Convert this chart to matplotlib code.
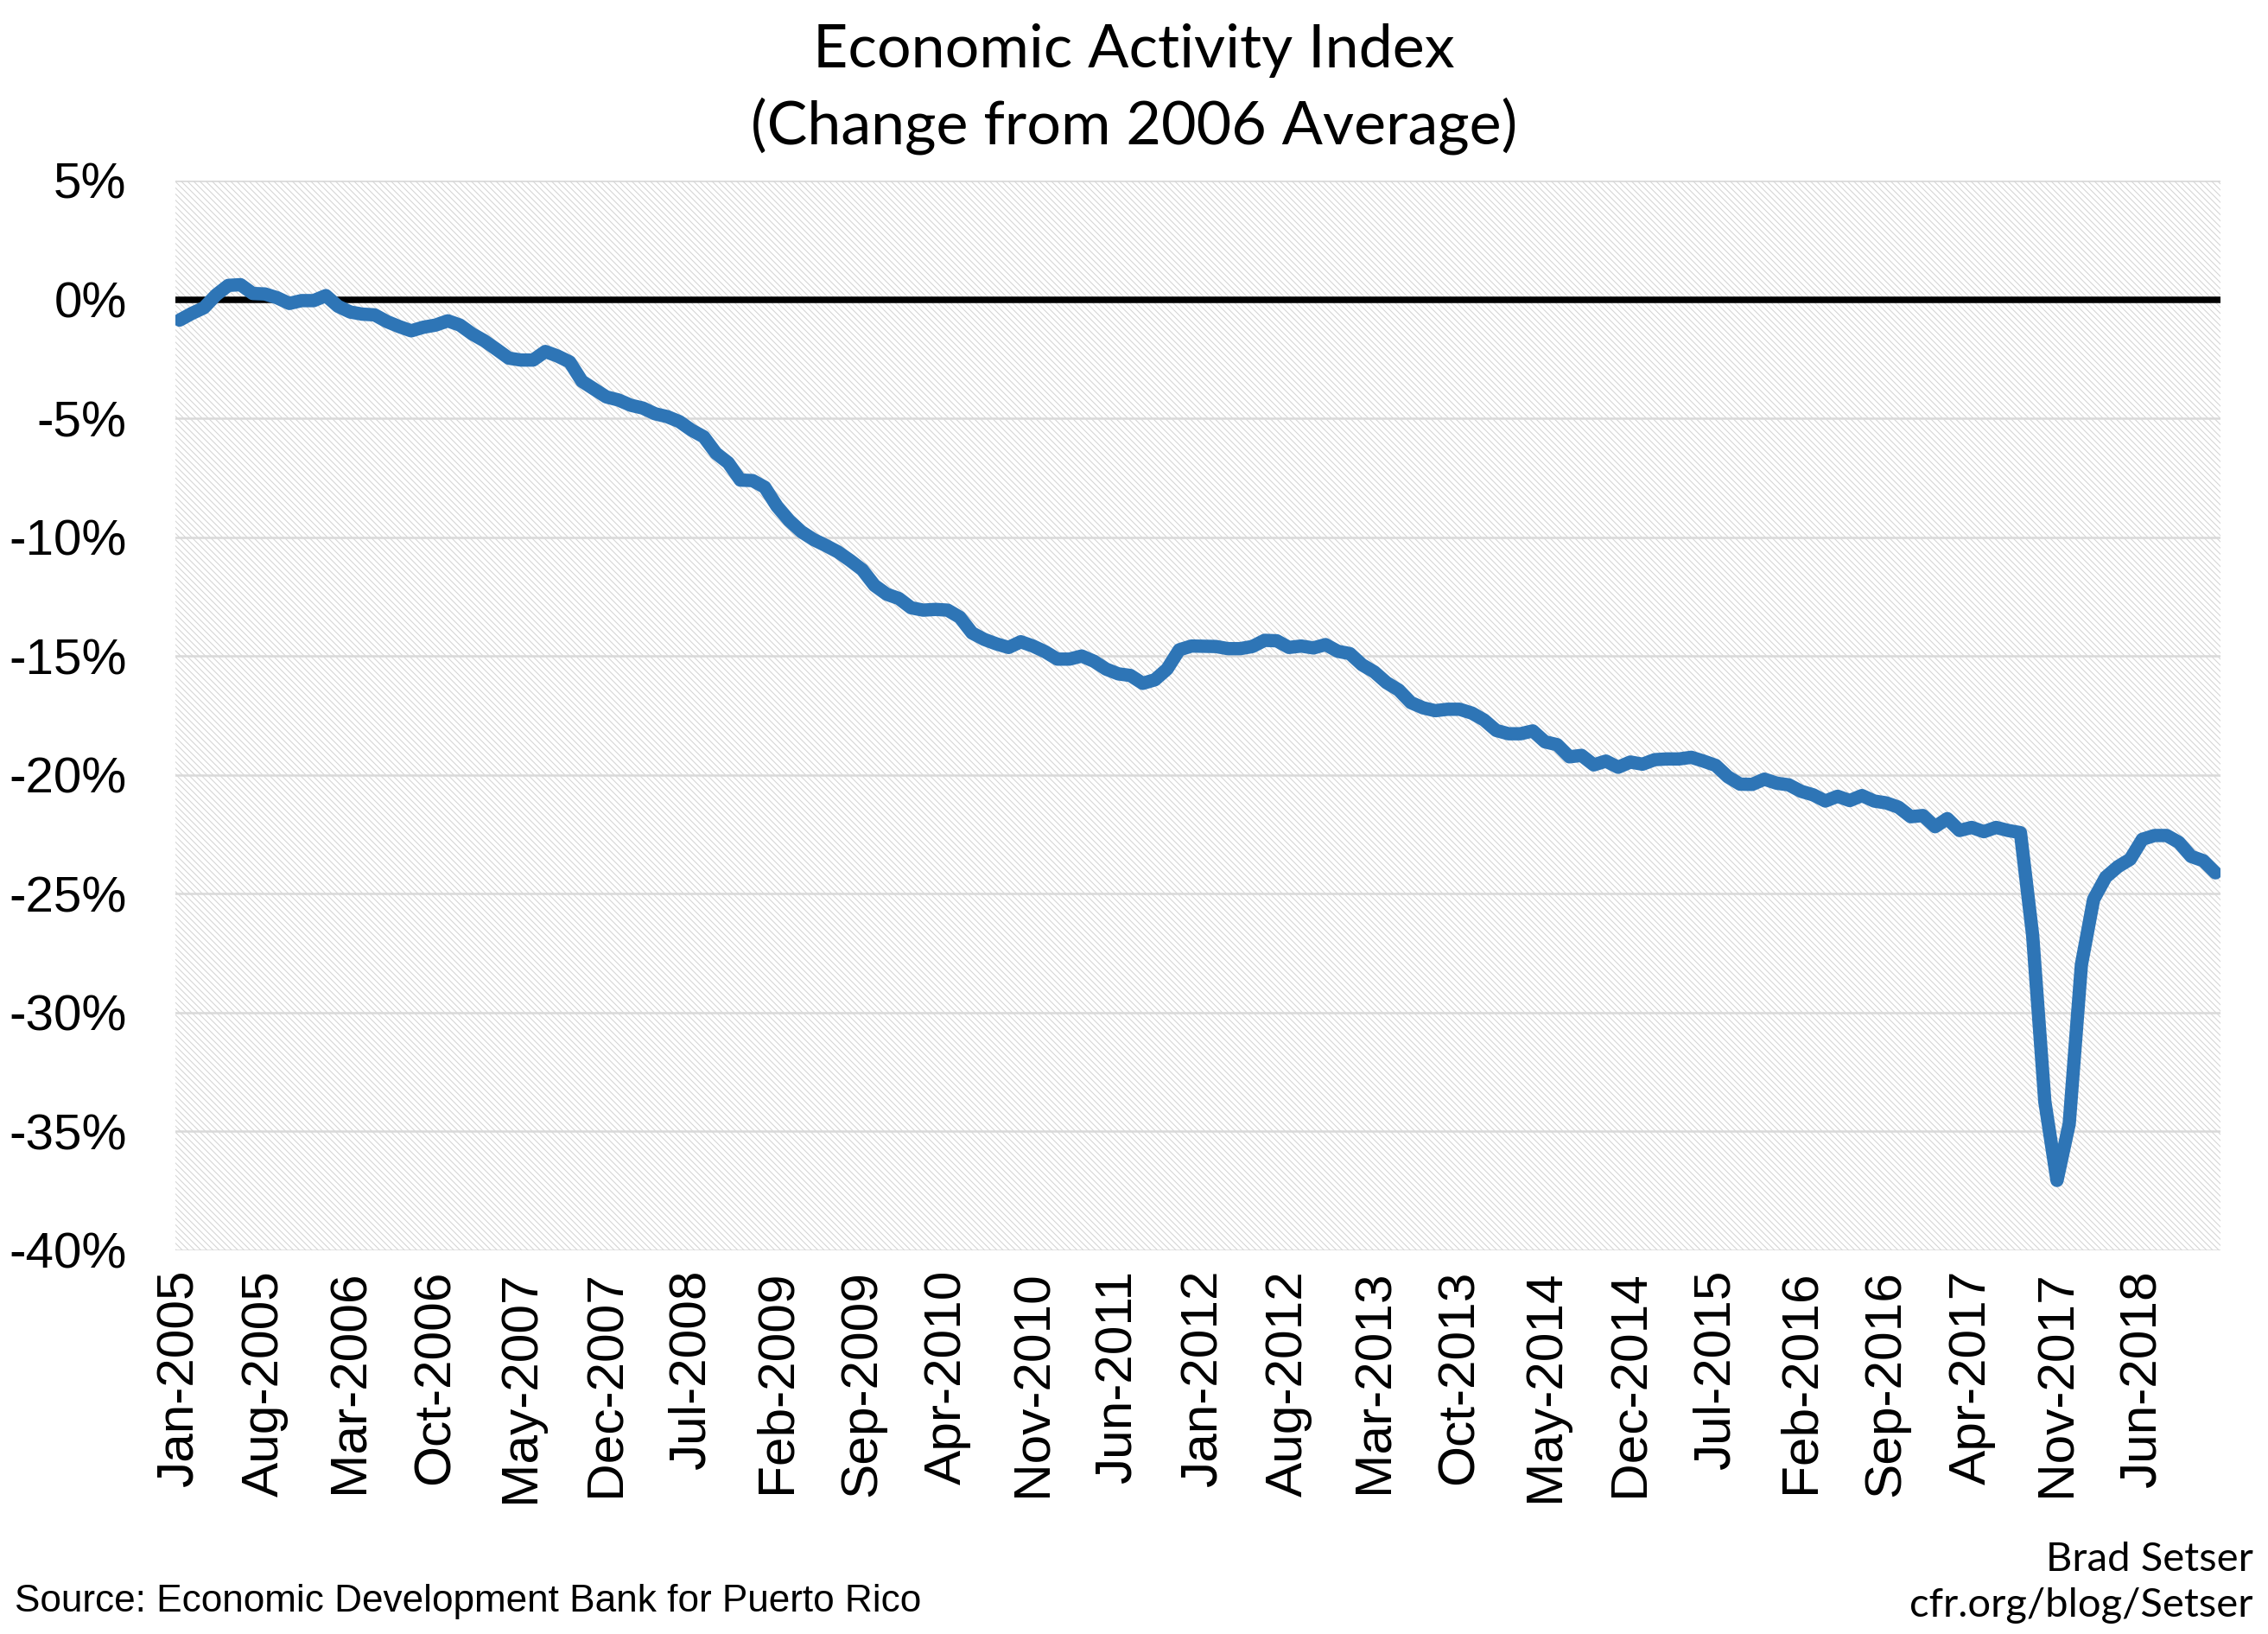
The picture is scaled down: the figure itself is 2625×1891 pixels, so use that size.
import matplotlib
matplotlib.use("Agg")
import matplotlib.pyplot as plt
from matplotlib import font_manager
from matplotlib.patches import Rectangle
import pandas as pd

# monthly index, % change from 2006 average, Jan-2005 .. Dec-2018
change = [
    -0.87, -0.59, -0.35, 0.19, 0.59, 0.62, 0.25, 0.23, 0.07, -0.17, -0.05, -0.05,
    0.16, -0.29, -0.53, -0.62, -0.65, -0.93, -1.14, -1.32, -1.17, -1.08, -0.90, -1.08,
    -1.45, -1.74, -2.10, -2.47, -2.55, -2.55, -2.19, -2.38, -2.63, -3.44, -3.77, -4.10,
    -4.23, -4.45, -4.57, -4.81, -4.93, -5.14, -5.50, -5.78, -6.47, -6.87, -7.60, -7.62,
    -7.90, -8.70, -9.30, -9.77, -10.10, -10.35, -10.62, -10.98, -11.37, -12.03, -12.40, -12.58,
    -12.97, -13.07, -13.04, -13.07, -13.37, -14.03, -14.30, -14.49, -14.64, -14.40, -14.58, -14.82,
    -15.13, -15.13, -15.00, -15.22, -15.55, -15.75, -15.82, -16.15, -16.00, -15.55, -14.74, -14.58,
    -14.59, -14.60, -14.69, -14.69, -14.60, -14.34, -14.36, -14.64, -14.58, -14.66, -14.52, -14.80,
    -14.90, -15.37, -15.67, -16.12, -16.43, -16.96, -17.18, -17.30, -17.24, -17.24, -17.40, -17.69,
    -18.13, -18.27, -18.27, -18.15, -18.61, -18.73, -19.24, -19.18, -19.58, -19.42, -19.68, -19.46,
    -19.55, -19.36, -19.33, -19.33, -19.26, -19.42, -19.60, -20.08, -20.39, -20.40, -20.18, -20.35,
    -20.42, -20.69, -20.84, -21.10, -20.90, -21.08, -20.87, -21.10, -21.18, -21.36, -21.76, -21.71,
    -22.18, -21.84, -22.34, -22.21, -22.39, -22.21, -22.34, -22.43, -26.74, -33.74, -37.06, -34.68,
    -27.99, -25.24, -24.30, -23.86, -23.55, -22.71, -22.55, -22.55, -22.84, -23.43, -23.61, -24.12,
]
months = pd.date_range("2005-01-01", periods=len(change), freq="MS")
month_labels = [d.strftime("%b-%Y") for d in months]
label_step = 7  # every 7th month gets a label
y_ticks = [5, 0, -5, -10, -15, -20, -25, -30, -35, -40]
y_labels = ["%d%%" % t for t in y_ticks]

names = {f.name for f in font_manager.fontManager.ttflist}
narrow = "Liberation Sans Narrow" in names
ytick_font = "Liberation Sans Narrow" if narrow else "Liberation Sans"
ytick_size = 15.5 if narrow else 14

plt.rcParams["axes.unicode_minus"] = False
plt.rcParams["hatch.linewidth"] = 0.25

fig = plt.figure(figsize=(8.75, 1891 / 300), dpi=300)
ax = fig.add_axes([0.0773, 0.2348, 0.9017, 0.6547])

# striped background like the excel pattern fill
ax.add_patch(Rectangle((0, 0), 1, 1, transform=ax.transAxes, facecolor="white",
                       edgecolor="#d4d4d4", hatch="\\" * 14, linewidth=0, zorder=0.1))

x = list(range(len(change)))
ax.plot(x, change, color="#2E75B6", lw=3.7, solid_joinstyle="round",
        solid_capstyle="round", zorder=3)
ax.axhline(0, color="black", lw=1.8, zorder=2)

ax.set_xlim(-0.35, len(change) - 1 + 0.4)
ax.set_ylim(-40, 5)
ax.set_yticks(y_ticks)
ax.set_yticklabels(y_labels, fontsize=ytick_size, family=ytick_font)
tick_pos = x[::label_step]
ax.set_xticks(tick_pos)
ax.set_xticklabels(month_labels[::label_step], rotation=90, fontsize=14.5,
                   family="Liberation Sans")
ax.tick_params(axis="both", length=0)
ax.tick_params(axis="y", pad=13.5)
ax.tick_params(axis="x", pad=5.5)

ax.set_axisbelow(True)
ax.yaxis.grid(True, color="#d9d9d9", lw=0.6, zorder=0.5)
ax.xaxis.grid(False)
for s in ax.spines.values():
    s.set_visible(False)

fig.text(0.5, 1 - 59 / 1891, "Economic Activity Index", ha="center", va="center",
         fontsize=16.8, family="Lato")
fig.text(0.5, 1 - 146 / 1891, "(Change from 2006 Average)", ha="center", va="center",
         fontsize=16.8, family="Lato")

fig.text(17 / 2625, 1 - 1853 / 1891, "Source: Economic Development Bank for Puerto Rico",
         ha="left", va="center", fontsize=13 if narrow else 10.6,
         family="Liberation Sans Narrow" if narrow else "Liberation Sans")
fig.text(2608 / 2625, 1 - 1805 / 1891, "Brad Setser", ha="right", va="center",
         fontsize=11.3, family="Lato")
fig.text(2608 / 2625, 1 - 1858 / 1891, "cfr.org/blog/Setser", ha="right", va="center",
         fontsize=11.3, family="Lato")

fig.savefig("out.png", dpi=300)
